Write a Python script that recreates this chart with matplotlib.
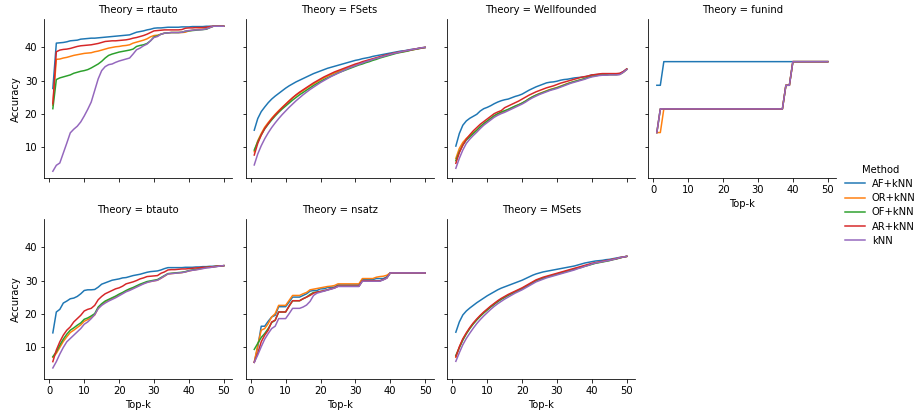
"""Top-k accuracy per theory for the five premise-selection methods (facet grid)."""

import matplotlib

matplotlib.use("Agg")
import matplotlib.pyplot as plt

TOP_K = list(range(1, 51))
METHODS = ["AF+kNN", "OR+kNN", "OF+kNN", "AR+kNN", "kNN"]
COLORS = ["#1f77b4", "#ff7f0e", "#2ca02c", "#d62728", "#9467bd"]
THEORIES = ["rtauto", "FSets", "Wellfounded", "funind", "btauto", "nsatz", "MSets"]

# --- rtauto ---
RTAUTO_AF = [27.6, 41.3, 41.4, 41.5, 41.7, 42.0, 42.1, 42.2, 42.5, 42.6,
             42.7, 42.8, 42.8, 42.9, 43.0, 43.1, 43.2, 43.3, 43.4, 43.5,
             43.6, 43.7, 43.8, 44.2, 44.6, 44.8, 45.0, 45.3, 45.5, 45.8,
             45.9, 45.9, 46.0, 46.1, 46.1, 46.1, 46.1, 46.2, 46.2, 46.2,
             46.3, 46.3, 46.3, 46.3, 46.4, 46.4, 46.4, 46.4, 46.4, 46.4]
RTAUTO_OR = [22.5, 36.4, 36.5, 36.8, 37.0, 37.3, 37.6, 37.8, 38.0, 38.2,
             38.3, 38.4, 38.7, 38.9, 39.2, 39.5, 39.8, 40.0, 40.2, 40.3,
             40.5, 40.6, 40.8, 41.3, 41.6, 41.9, 42.2, 42.6, 43.2, 43.6,
             43.7, 44.0, 44.3, 44.4, 44.5, 44.5, 44.5, 44.5, 44.6, 45.0,
             45.2, 45.4, 45.5, 45.5, 45.6, 46.0, 46.4, 46.4, 46.4, 46.4]
RTAUTO_OF = [21.5, 30.3, 30.8, 31.1, 31.4, 31.7, 32.2, 32.5, 32.8, 33.0,
             33.3, 33.8, 34.4, 35.0, 35.8, 36.8, 37.6, 38.0, 38.3, 38.6,
             38.8, 39.0, 39.2, 39.5, 40.3, 40.6, 40.8, 41.2, 42.0, 43.2,
             43.5, 44.0, 44.3, 44.4, 44.5, 44.5, 44.5, 44.6, 44.9, 45.0,
             45.1, 45.2, 45.3, 45.4, 45.5, 46.0, 46.4, 46.4, 46.4, 46.4]
RTAUTO_AR = [23.0, 38.7, 39.2, 39.4, 39.5, 39.7, 40.0, 40.3, 40.5, 40.6,
             40.7, 40.8, 41.0, 41.2, 41.5, 41.8, 41.9, 42.0, 42.0, 42.1,
             42.2, 42.3, 42.5, 42.8, 43.0, 43.3, 43.6, 44.0, 44.5, 45.0,
             45.1, 45.2, 45.3, 45.3, 45.3, 45.3, 45.3, 45.4, 45.8, 45.9,
             45.9, 46.0, 46.0, 46.0, 46.1, 46.3, 46.4, 46.4, 46.4, 46.4]
RTAUTO_KNN = [2.6, 4.4, 5.1, 8.1, 11.1, 14.2, 15.3, 16.2, 17.5, 19.3,
              21.3, 23.5, 27.0, 30.5, 33.0, 34.2, 34.8, 35.0, 35.5, 35.9,
              36.2, 36.5, 36.8, 38.0, 39.3, 39.8, 40.5, 41.0, 42.0, 43.0,
              43.3, 44.0, 44.3, 44.4, 44.5, 44.5, 44.5, 44.6, 44.9, 45.1,
              45.2, 45.3, 45.3, 45.4, 45.6, 46.0, 46.4, 46.4, 46.4, 46.4]

# --- FSets ---
FSETS_AF = [15.0, 18.5, 20.6, 22.0, 23.3, 24.4, 25.3, 26.1, 26.9, 27.7,
            28.4, 29.0, 29.6, 30.1, 30.6, 31.1, 31.6, 32.1, 32.5, 32.9,
            33.3, 33.7, 34.0, 34.3, 34.6, 34.9, 35.2, 35.5, 35.8, 36.1,
            36.3, 36.6, 36.8, 37.0, 37.3, 37.5, 37.7, 37.9, 38.1, 38.3,
            38.5, 38.7, 38.9, 39.0, 39.2, 39.4, 39.5, 39.7, 39.9, 40.0]
FSETS_OR = [8.5, 11.8, 14.0, 15.9, 17.3, 18.6, 19.8, 20.9, 21.9, 22.9,
            23.9, 24.8, 25.6, 26.3, 27.0, 27.7, 28.4, 29.0, 29.6, 30.2,
            30.8, 31.3, 31.8, 32.3, 32.7, 33.1, 33.5, 33.9, 34.3, 34.7,
            35.0, 35.4, 35.7, 36.0, 36.4, 36.7, 37.0, 37.3, 37.6, 37.9,
            38.2, 38.4, 38.6, 38.8, 39.0, 39.2, 39.4, 39.6, 39.8, 40.0]
FSETS_OF = [9.0, 11.5, 13.6, 15.4, 16.8, 18.1, 19.3, 20.4, 21.4, 22.3,
            23.2, 24.1, 24.9, 25.7, 26.4, 27.1, 27.8, 28.5, 29.1, 29.7,
            30.3, 30.8, 31.3, 31.8, 32.3, 32.7, 33.1, 33.5, 33.9, 34.3,
            34.7, 35.0, 35.4, 35.7, 36.1, 36.4, 36.8, 37.1, 37.4, 37.7,
            38.0, 38.3, 38.5, 38.7, 38.9, 39.2, 39.4, 39.6, 39.8, 40.0]
FSETS_AR = [7.5, 11.0, 13.5, 15.5, 17.0, 18.4, 19.6, 20.7, 21.8, 22.8,
            23.8, 24.8, 25.7, 26.5, 27.2, 27.9, 28.6, 29.3, 29.9, 30.5,
            31.1, 31.6, 32.1, 32.6, 33.0, 33.4, 33.8, 34.2, 34.6, 35.0,
            35.3, 35.7, 36.0, 36.3, 36.6, 36.9, 37.2, 37.5, 37.8, 38.0,
            38.3, 38.5, 38.7, 38.9, 39.1, 39.3, 39.5, 39.7, 39.9, 40.0]
FSETS_KNN = [4.5, 7.8, 10.3, 12.4, 14.2, 15.8, 17.2, 18.5, 19.7, 20.8,
             21.9, 22.9, 23.9, 24.8, 25.7, 26.5, 27.3, 28.0, 28.7, 29.4,
             30.0, 30.6, 31.2, 31.7, 32.2, 32.7, 33.2, 33.7, 34.1, 34.5,
             34.9, 35.3, 35.7, 36.0, 36.4, 36.7, 37.0, 37.3, 37.6, 37.9,
             38.2, 38.4, 38.7, 38.9, 39.1, 39.3, 39.5, 39.7, 39.9, 40.0]

# --- Wellfounded ---
WELL_AF = [10.2, 14.0, 16.5, 17.8, 18.6, 19.2, 19.8, 20.8, 21.5, 21.9,
           22.4, 23.0, 23.5, 23.9, 24.2, 24.4, 24.8, 25.2, 25.5, 25.9,
           26.5, 27.1, 27.6, 28.1, 28.5, 28.9, 29.3, 29.5, 29.6, 29.8,
           30.1, 30.3, 30.4, 30.6, 30.8, 30.9, 31.0, 31.1, 31.4, 31.7,
           31.8, 31.8, 31.9, 32.0, 32.0, 32.0, 32.0, 32.1, 32.7, 33.5]
WELL_OR = [6.5, 9.5, 11.3, 12.5, 13.4, 14.2, 15.0, 16.0, 16.9, 17.7,
           18.5, 19.2, 19.8, 20.3, 20.7, 21.2, 21.7, 22.2, 22.7, 23.2,
           23.8, 24.5, 25.1, 25.6, 26.1, 26.5, 26.9, 27.3, 27.6, 27.9,
           28.3, 28.7, 29.1, 29.4, 29.7, 30.0, 30.3, 30.6, 31.0, 31.3,
           31.5, 31.6, 31.7, 31.7, 31.8, 31.8, 31.8, 31.9, 32.5, 33.4]
WELL_OF = [5.8, 8.5, 10.5, 12.0, 13.0, 14.0, 15.0, 16.1, 17.0, 17.8,
           18.6, 19.4, 20.0, 20.5, 20.9, 21.3, 21.8, 22.3, 22.7, 23.2,
           23.8, 24.5, 25.1, 25.6, 26.0, 26.4, 26.8, 27.2, 27.5, 27.8,
           28.2, 28.6, 29.0, 29.4, 29.7, 30.0, 30.3, 30.6, 31.0, 31.3,
           31.5, 31.6, 31.7, 31.7, 31.8, 31.8, 31.8, 31.9, 32.5, 33.4]
WELL_AR = [5.0, 8.2, 10.5, 12.3, 13.6, 14.8, 15.8, 16.8, 17.6, 18.4,
           19.2, 20.0, 20.5, 20.9, 21.8, 22.3, 22.8, 23.3, 23.8, 24.4,
           25.0, 25.6, 26.1, 26.6, 27.0, 27.4, 27.8, 28.1, 28.4, 28.8,
           29.2, 29.5, 29.8, 30.1, 30.4, 30.7, 31.0, 31.2, 31.4, 31.7,
           31.8, 32.0, 32.1, 32.1, 32.1, 32.1, 32.1, 32.2, 32.7, 33.5]
WELL_KNN = [3.5, 6.5, 9.0, 11.0, 12.3, 13.4, 14.4, 15.5, 16.5, 17.3,
            18.1, 18.9, 19.5, 20.0, 20.4, 20.9, 21.4, 21.9, 22.4, 22.9,
            23.5, 24.2, 24.8, 25.3, 25.8, 26.2, 26.6, 27.0, 27.3, 27.6,
            28.0, 28.4, 28.8, 29.2, 29.5, 29.8, 30.1, 30.4, 30.8, 31.1,
            31.3, 31.5, 31.6, 31.6, 31.7, 31.7, 31.7, 31.8, 32.5, 33.3]

# --- funind ---
FUNIND_AF = [28.57, 28.57, 35.71, 35.71, 35.71, 35.71, 35.71, 35.71, 35.71, 35.71,
             35.71, 35.71, 35.71, 35.71, 35.71, 35.71, 35.71, 35.71, 35.71, 35.71,
             35.71, 35.71, 35.71, 35.71, 35.71, 35.71, 35.71, 35.71, 35.71, 35.71,
             35.71, 35.71, 35.71, 35.71, 35.71, 35.71, 35.71, 35.71, 35.71, 35.71,
             35.71, 35.71, 35.71, 35.71, 35.71, 35.71, 35.71, 35.71, 35.71, 35.71]
FUNIND_OR = [14.29, 14.29, 21.43, 21.43, 21.43, 21.43, 21.43, 21.43, 21.43, 21.43,
             21.43, 21.43, 21.43, 21.43, 21.43, 21.43, 21.43, 21.43, 21.43, 21.43,
             21.43, 21.43, 21.43, 21.43, 21.43, 21.43, 21.43, 21.43, 21.43, 21.43,
             21.43, 21.43, 21.43, 21.43, 21.43, 21.43, 21.43, 28.57, 28.57, 35.71,
             35.71, 35.71, 35.71, 35.71, 35.71, 35.71, 35.71, 35.71, 35.71, 35.71]
FUNIND_OF = [14.29, 21.43, 21.43, 21.43, 21.43, 21.43, 21.43, 21.43, 21.43, 21.43,
             21.43, 21.43, 21.43, 21.43, 21.43, 21.43, 21.43, 21.43, 21.43, 21.43,
             21.43, 21.43, 21.43, 21.43, 21.43, 21.43, 21.43, 21.43, 21.43, 21.43,
             21.43, 21.43, 21.43, 21.43, 21.43, 21.43, 21.43, 28.57, 28.57, 35.71,
             35.71, 35.71, 35.71, 35.71, 35.71, 35.71, 35.71, 35.71, 35.71, 35.71]
FUNIND_AR = [14.29, 21.43, 21.43, 21.43, 21.43, 21.43, 21.43, 21.43, 21.43, 21.43,
             21.43, 21.43, 21.43, 21.43, 21.43, 21.43, 21.43, 21.43, 21.43, 21.43,
             21.43, 21.43, 21.43, 21.43, 21.43, 21.43, 21.43, 21.43, 21.43, 21.43,
             21.43, 21.43, 21.43, 21.43, 21.43, 21.43, 21.43, 28.57, 28.57, 35.71,
             35.71, 35.71, 35.71, 35.71, 35.71, 35.71, 35.71, 35.71, 35.71, 35.71]
FUNIND_KNN = [14.29, 21.43, 21.43, 21.43, 21.43, 21.43, 21.43, 21.43, 21.43, 21.43,
              21.43, 21.43, 21.43, 21.43, 21.43, 21.43, 21.43, 21.43, 21.43, 21.43,
              21.43, 21.43, 21.43, 21.43, 21.43, 21.43, 21.43, 21.43, 21.43, 21.43,
              21.43, 21.43, 21.43, 21.43, 21.43, 21.43, 21.43, 28.57, 28.57, 35.71,
              35.71, 35.71, 35.71, 35.71, 35.71, 35.71, 35.71, 35.71, 35.71, 35.71]

# --- btauto ---
BTAUTO_AF = [14.2, 20.5, 21.3, 23.2, 23.8, 24.5, 24.7, 25.2, 26.0, 27.0,
             27.2, 27.2, 27.3, 28.0, 28.9, 29.3, 29.7, 30.1, 30.3, 30.5,
             30.8, 30.9, 31.2, 31.5, 31.7, 31.9, 32.2, 32.5, 32.7, 32.8,
             32.9, 33.2, 33.6, 33.9, 33.9, 33.9, 33.9, 33.9, 34.0, 34.0,
             34.0, 34.1, 34.1, 34.2, 34.2, 34.3, 34.3, 34.4, 34.4, 34.5]
BTAUTO_OR = [6.8, 8.0, 9.8, 11.6, 13.0, 14.3, 15.0, 15.8, 16.6, 17.7,
             18.2, 18.8, 19.6, 21.6, 22.7, 23.6, 24.1, 24.6, 25.1, 25.7,
             26.2, 26.8, 27.3, 27.7, 28.2, 28.7, 29.1, 29.5, 29.7, 29.9,
             30.1, 30.7, 31.3, 32.0, 32.1, 32.2, 32.3, 32.4, 32.6, 32.9,
             33.1, 33.3, 33.5, 33.7, 33.9, 34.0, 34.1, 34.3, 34.4, 34.5]
BTAUTO_OF = [7.0, 8.5, 10.5, 12.3, 13.8, 15.0, 15.7, 16.5, 17.2, 18.3,
             18.7, 19.3, 20.0, 22.0, 23.0, 23.8, 24.3, 24.8, 25.3, 25.9,
             26.4, 27.0, 27.5, 27.9, 28.4, 28.9, 29.3, 29.7, 29.9, 30.1,
             30.3, 30.9, 31.5, 32.1, 32.2, 32.3, 32.4, 32.5, 32.7, 33.0,
             33.2, 33.4, 33.6, 33.8, 34.0, 34.1, 34.2, 34.3, 34.4, 34.5]
BTAUTO_AR = [5.5, 9.0, 11.5, 13.5, 15.0, 16.0, 17.5, 18.5, 19.5, 20.8,
             21.3, 21.6, 22.5, 24.2, 25.2, 26.0, 26.5, 27.0, 27.5, 27.8,
             28.3, 29.0, 29.3, 29.6, 30.0, 30.5, 30.8, 31.2, 31.3, 31.4,
             31.5, 32.2, 32.6, 33.2, 33.3, 33.3, 33.4, 33.5, 33.5, 33.6,
             33.7, 33.8, 33.9, 34.0, 34.0, 34.1, 34.2, 34.3, 34.4, 34.5]
BTAUTO_KNN = [3.6, 5.5, 7.8, 9.8, 11.5, 12.5, 13.5, 14.5, 15.5, 16.8,
              17.5, 18.5, 19.7, 21.5, 22.5, 23.2, 23.8, 24.3, 24.8, 25.4,
              26.0, 26.6, 27.0, 27.5, 28.0, 28.5, 29.0, 29.4, 29.7, 29.9,
              30.1, 30.7, 31.4, 32.0, 32.1, 32.2, 32.3, 32.4, 32.6, 32.9,
              33.1, 33.2, 33.4, 33.6, 33.8, 33.9, 34.1, 34.2, 34.4, 34.5]

# --- nsatz ---
NSATZ_AF = [5.3, 9.9, 16.2, 16.2, 17.7, 19.0, 19.5, 22.1, 22.1, 22.1,
            23.5, 25.0, 25.0, 25.0, 25.5, 26.0, 26.8, 27.0, 27.0, 27.5,
            27.5, 27.9, 28.0, 28.0, 28.7, 28.7, 28.7, 28.7, 28.7, 28.7,
            28.7, 30.3, 30.3, 30.3, 30.3, 30.6, 30.6, 30.6, 31.1, 32.3,
            32.3, 32.3, 32.3, 32.3, 32.3, 32.3, 32.3, 32.3, 32.3, 32.3]
NSATZ_OR = [5.3, 10.5, 15.0, 15.5, 17.0, 19.0, 20.0, 22.5, 22.5, 22.5,
            24.0, 25.5, 25.5, 25.5, 26.0, 26.4, 27.2, 27.4, 27.6, 27.8,
            28.0, 28.2, 28.3, 28.5, 29.0, 29.0, 29.0, 29.0, 29.0, 29.0,
            29.0, 30.6, 30.6, 30.6, 30.6, 31.0, 31.2, 31.3, 31.6, 32.3,
            32.3, 32.3, 32.3, 32.3, 32.3, 32.3, 32.3, 32.3, 32.3, 32.3]
NSATZ_OF = [9.2, 11.0, 12.8, 14.0, 15.5, 17.3, 18.0, 20.5, 20.5, 20.5,
            22.3, 23.9, 23.9, 23.9, 24.5, 25.0, 25.8, 26.4, 26.5, 26.7,
            26.9, 27.2, 27.5, 27.8, 28.3, 28.3, 28.3, 28.3, 28.3, 28.3,
            28.3, 29.9, 29.9, 29.9, 29.9, 29.9, 29.9, 30.3, 30.8, 32.3,
            32.3, 32.3, 32.3, 32.3, 32.3, 32.3, 32.3, 32.3, 32.3, 32.3]
NSATZ_AR = [5.3, 8.0, 11.5, 13.5, 15.0, 17.5, 18.0, 20.5, 20.5, 20.5,
            22.3, 23.9, 23.9, 23.9, 24.5, 25.0, 25.5, 26.2, 26.5, 26.7,
            26.9, 27.2, 27.5, 27.8, 28.3, 28.3, 28.3, 28.3, 28.3, 28.3,
            28.3, 29.9, 29.9, 29.9, 29.9, 29.9, 29.9, 30.3, 30.8, 32.3,
            32.3, 32.3, 32.3, 32.3, 32.3, 32.3, 32.3, 32.3, 32.3, 32.3]
NSATZ_KNN = [5.3, 7.5, 10.0, 12.3, 14.0, 15.5, 16.2, 18.5, 18.5, 18.5,
             20.0, 21.6, 21.6, 21.6, 22.0, 22.6, 23.7, 25.5, 26.2, 26.5,
             26.8, 27.1, 27.4, 27.7, 28.2, 28.2, 28.2, 28.2, 28.2, 28.2,
             28.2, 29.8, 29.8, 29.8, 29.8, 29.8, 29.8, 30.2, 30.7, 32.3,
             32.3, 32.3, 32.3, 32.3, 32.3, 32.3, 32.3, 32.3, 32.3, 32.3]

# --- MSets ---
MSETS_AF = [14.4, 17.5, 19.6, 20.8, 21.7, 22.5, 23.3, 24.0, 24.7, 25.4,
            26.0, 26.6, 27.2, 27.7, 28.1, 28.5, 28.9, 29.3, 29.7, 30.1,
            30.6, 31.1, 31.6, 32.0, 32.3, 32.6, 32.8, 33.0, 33.2, 33.4,
            33.6, 33.8, 34.0, 34.2, 34.4, 34.7, 35.0, 35.3, 35.5, 35.7,
            35.9, 36.0, 36.1, 36.3, 36.4, 36.6, 36.8, 37.0, 37.1, 37.3]
MSETS_OR = [6.8, 9.8, 12.2, 14.0, 15.6, 17.0, 18.2, 19.3, 20.3, 21.2,
            22.1, 22.9, 23.7, 24.4, 25.0, 25.6, 26.1, 26.6, 27.1, 27.6,
            28.2, 28.8, 29.4, 30.0, 30.4, 30.8, 31.1, 31.4, 31.7, 32.0,
            32.3, 32.6, 32.9, 33.2, 33.5, 33.8, 34.1, 34.4, 34.7, 35.0,
            35.3, 35.5, 35.7, 35.9, 36.1, 36.4, 36.6, 36.9, 37.1, 37.3]
MSETS_OF = [7.4, 9.7, 12.0, 13.9, 15.5, 16.9, 18.1, 19.2, 20.2, 21.1,
            22.0, 22.8, 23.6, 24.3, 24.9, 25.5, 26.0, 26.5, 27.0, 27.5,
            28.1, 28.7, 29.3, 29.9, 30.3, 30.7, 31.0, 31.3, 31.6, 31.9,
            32.2, 32.5, 32.8, 33.1, 33.4, 33.7, 34.0, 34.3, 34.6, 34.9,
            35.2, 35.4, 35.6, 35.8, 36.0, 36.3, 36.5, 36.8, 37.1, 37.3]
MSETS_AR = [7.0, 10.0, 12.4, 14.2, 15.8, 17.2, 18.4, 19.5, 20.5, 21.4,
            22.3, 23.1, 23.9, 24.6, 25.2, 25.8, 26.3, 26.8, 27.3, 27.8,
            28.4, 29.0, 29.6, 30.2, 30.6, 31.0, 31.3, 31.6, 31.9, 32.2,
            32.5, 32.8, 33.1, 33.4, 33.7, 34.0, 34.3, 34.6, 34.9, 35.2,
            35.4, 35.6, 35.8, 36.0, 36.2, 36.4, 36.6, 36.9, 37.1, 37.3]
MSETS_KNN = [5.6, 8.2, 10.6, 12.5, 14.1, 15.6, 17.0, 18.2, 19.3, 20.3,
             21.3, 22.2, 23.0, 23.7, 24.4, 25.0, 25.6, 26.2, 26.7, 27.2,
             27.8, 28.4, 29.0, 29.6, 30.0, 30.4, 30.8, 31.1, 31.4, 31.7,
             32.0, 32.3, 32.6, 32.9, 33.2, 33.6, 33.9, 34.3, 34.6, 35.0,
             35.3, 35.5, 35.7, 35.9, 36.1, 36.3, 36.6, 36.9, 37.1, 37.3]

ACCURACY = {
    "rtauto": [RTAUTO_AF, RTAUTO_OR, RTAUTO_OF, RTAUTO_AR, RTAUTO_KNN],
    "FSets": [FSETS_AF, FSETS_OR, FSETS_OF, FSETS_AR, FSETS_KNN],
    "Wellfounded": [WELL_AF, WELL_OR, WELL_OF, WELL_AR, WELL_KNN],
    "funind": [FUNIND_AF, FUNIND_OR, FUNIND_OF, FUNIND_AR, FUNIND_KNN],
    "btauto": [BTAUTO_AF, BTAUTO_OR, BTAUTO_OF, BTAUTO_AR, BTAUTO_KNN],
    "nsatz": [NSATZ_AF, NSATZ_OR, NSATZ_OF, NSATZ_AR, NSATZ_KNN],
    "MSets": [MSETS_AF, MSETS_OR, MSETS_OF, MSETS_AR, MSETS_KNN],
}

W, H = 918, 413
fig = plt.figure(figsize=(W / 72, H / 72), dpi=72)

# facet boxes in pixels: left edge per column, top edge per row
col_left = [44.3, 245.7, 447.3, 648.3]
row_top = [19.0, 219.0]
ax_w, ax_h = 188.0, 159.5

axes = []
ref = None
for i, theory in enumerate(THEORIES):
    r, c = divmod(i, 4)
    rect = [col_left[c] / W, 1 - (row_top[r] + ax_h) / H, ax_w / W, ax_h / H]
    ax = fig.add_axes(rect, sharex=ref, sharey=ref)
    ref = ref or ax
    for values, method, color in zip(ACCURACY[theory], METHODS, COLORS):
        ax.plot(TOP_K, values, color=color, lw=1.5, label=method)
    ax.set_title(f"Theory = {theory}", fontsize=10)
    ax.spines[["top", "right"]].set_visible(False)
    if c == 0:
        ax.set_ylabel("Accuracy")
    else:
        ax.tick_params(labelleft=False)
    if r == 1 or c == 3:
        ax.set_xlabel("Top-k")
    else:
        ax.tick_params(labelbottom=False)
    axes.append(ax)

axes[0].set_xticks([0, 10, 20, 30, 40, 50])
axes[0].set_yticks([10, 20, 30, 40])

handles, labels = axes[0].get_legend_handles_labels()
fig.legend(handles, labels, title="Method", frameon=False, labelspacing=0.42,
           handletextpad=0.7, loc="center left", bbox_to_anchor=(0.9105, 0.503))

fig.savefig("out.png", dpi=72)
